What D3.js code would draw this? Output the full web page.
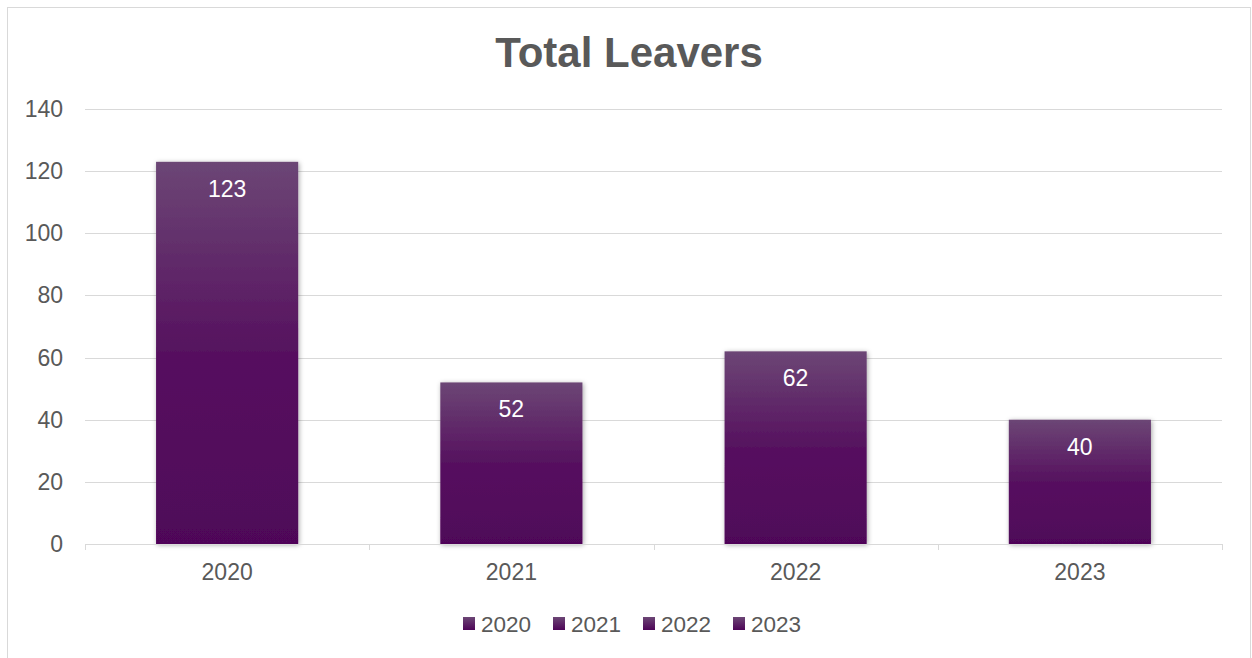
<!DOCTYPE html>
<html>
<head>
<meta charset="utf-8">
<script src="https://cdn.jsdelivr.net/npm/d3@7"></script>
<style>
  body { margin: 0; background: #fff; font-family: "Liberation Sans", Arial, sans-serif; }
</style>
</head>
<body>
<svg id="chart" width="1252" height="658"></svg>
<script>
// chart data
var years = ["2020", "2021", "2022", "2023"];
var leavers = [123, 52, 62, 40];
var yTicks = [0, 20, 40, 60, 80, 100, 120, 140];

var svg = d3.select("#chart"),
    margin = {top: 109, right: 30, bottom: 114, left: 85},
    width = 1222 - margin.left,
    height = 544 - margin.top,
    textColor = "#595959";

// outer frame
svg.append("rect")
    .attr("x", 7.5).attr("y", 7.5)
    .attr("width", 1243).attr("height", 670)
    .attr("fill", "#fff")
    .attr("stroke", "#d9d9d9")
    .attr("stroke-width", 1);

var defs = svg.append("defs");
var grad = defs.append("linearGradient")
    .attr("id", "barGrad")
    .attr("x1", 0).attr("y1", 0).attr("x2", 0).attr("y2", 1);
grad.append("stop").attr("offset", "0%").attr("stop-color", "#6c4675");
grad.append("stop").attr("offset", "50%").attr("stop-color", "#56115f");
grad.append("stop").attr("offset", "100%").attr("stop-color", "#4f0659");

var legGrad = defs.append("linearGradient")
    .attr("id", "legGrad")
    .attr("x1", 0).attr("y1", 0).attr("x2", 0).attr("y2", 1);
legGrad.append("stop").attr("offset", "0%").attr("stop-color", "#6c4675");
legGrad.append("stop").attr("offset", "100%").attr("stop-color", "#4e0558");

var shadow = defs.append("filter").attr("id", "shadow")
    .attr("x", "-10%").attr("y", "-10%").attr("width", "130%").attr("height", "130%");
shadow.append("feDropShadow")
    .attr("dx", 1).attr("dy", 1).attr("stdDeviation", 2.5)
    .attr("flood-color", "#000").attr("flood-opacity", 0.35);

var g = svg.append("g").attr("transform", "translate(" + margin.left + "," + margin.top + ")");

var x = d3.scaleBand().domain(years).range([0, width]).paddingInner(0.5).paddingOuter(0.25);
var xb = d3.scaleBand().domain(years).range([0, width]);
var y = d3.scaleLinear().domain([0, 140]).range([height, 0]);

// title
svg.append("text")
    .attr("x", 629).attr("y", 67)
    .attr("text-anchor", "middle")
    .style("font-size", "42px").style("font-weight", "bold")
    .attr("fill", textColor)
    .text("Total Leavers");

// gridlines
g.selectAll(".grid").data(yTicks.filter(function (d) { return d > 0; }))
    .enter().append("line")
    .attr("x1", 0).attr("x2", width)
    .attr("y1", function (d) { return Math.round(y(d)) + 0.5; })
    .attr("y2", function (d) { return Math.round(y(d)) + 0.5; })
    .attr("stroke", "#d9d9d9").attr("stroke-width", 1);

// y axis labels
g.selectAll(".ylab").data(yTicks)
    .enter().append("text")
    .attr("x", -22)
    .attr("y", function (d) { return y(d) + 8; })
    .attr("text-anchor", "end")
    .style("font-size", "23px")
    .attr("fill", textColor)
    .text(function (d) { return d; });

// bars
g.selectAll(".bar").data(leavers)
    .enter().append("rect")
    .attr("x", function (d, i) { return x(years[i]); })
    .attr("y", function (d) { return y(d); })
    .attr("width", x.bandwidth())
    .attr("height", function (d) { return height - y(d); })
    .attr("fill", "url(#barGrad)")
    .attr("filter", "url(#shadow)");

// value labels
g.selectAll(".val").data(leavers)
    .enter().append("text")
    .attr("x", function (d, i) { return x(years[i]) + x.bandwidth() / 2; })
    .attr("y", function (d) { return y(d) + 35; })
    .attr("text-anchor", "middle")
    .style("font-size", "23px")
    .attr("fill", "#fff")
    .text(function (d) { return d; });

// x axis
var xAxis = g.append("g")
    .attr("transform", "translate(0," + height + ")")
    .call(d3.axisBottom(xb).tickSize(0).tickPadding(0));
xAxis.select(".domain").attr("stroke", "#d9d9d9").attr("d", "M0.5,0.5H" + width);
xAxis.selectAll("text")
    .attr("dy", null).attr("y", 36)
    .style("font-size", "23px").style("font-family", "Liberation Sans, Arial, sans-serif")
    .attr("fill", textColor);

// category tick marks on the band edges
var edges = years.map(function (d) { return xb(d); }).concat([width]);
g.selectAll(".edge").data(edges)
    .enter().append("line")
    .attr("x1", function (d) { return Math.round(d) + 0.5; })
    .attr("x2", function (d) { return Math.round(d) + 0.5; })
    .attr("y1", height).attr("y2", height + 6)
    .attr("stroke", "#d9d9d9");

// legend
var legend = svg.append("g").attr("transform", "translate(463,624)");
var item = legend.selectAll(".leg").data(years)
    .enter().append("g")
    .attr("transform", function (d, i) { return "translate(" + (i * 90) + ",0)"; });
item.append("rect")
    .attr("x", 0).attr("y", -7)
    .attr("width", 12).attr("height", 13)
    .attr("fill", "url(#legGrad)");
item.append("text")
    .attr("x", 18).attr("y", 8)
    .style("font-size", "22.5px")
    .attr("fill", textColor)
    .text(function (d) { return d; });
</script>
</body>
</html>
